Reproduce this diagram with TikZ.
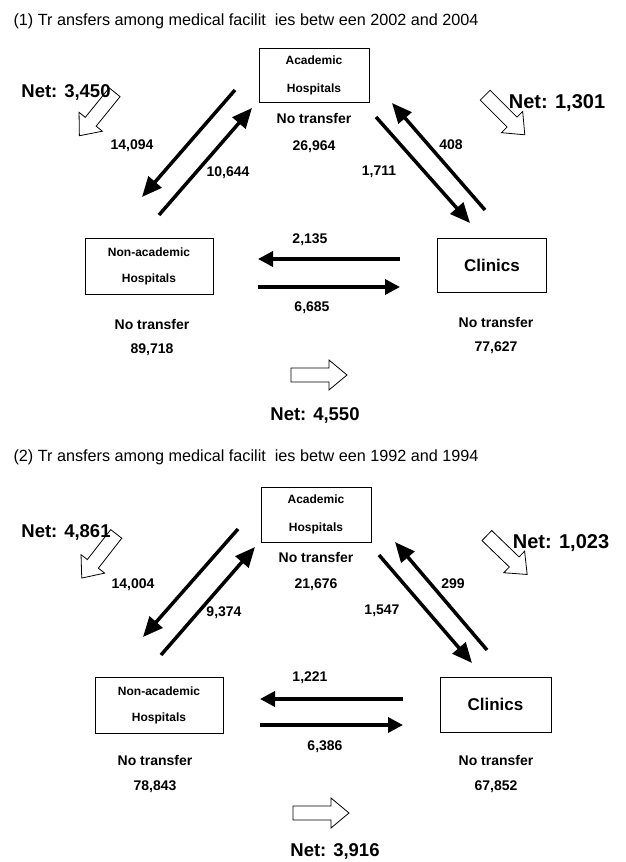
\documentclass[tikz,border=0pt]{standalone}
\usepackage{fontspec}
\setmainfont{Liberation Sans}
\usetikzlibrary{arrows.meta}

\tikzset{
  facility/.style={draw, line width=0.8pt, inner sep=0pt, align=center,
    minimum width=110pt, minimum height=54pt,
    font=\fontsize{12}{28}\selectfont\bfseries},
  count/.style={font=\fontsize{14}{16}\selectfont\bfseries},
  netlabel/.style={font=\fontsize{18.5}{20}\selectfont\bfseries},
  heading/.style={anchor=west, font=\fontsize{16.2}{19}\selectfont},
  flow/.style={-{Triangle[length=20pt,width=17pt]}, line width=3.5pt},
  sideflow/.style={-{Triangle[length=15pt,width=15pt]}, line width=3.5pt},
  netarrow/.pic={
    \draw[line width=0.8pt, fill=white]
      (-28,-7) -- (10,-7) -- (10,-15) -- (28,0) -- (10,15) -- (10,7) -- (-28,7) -- cycle;
  }
}

\begin{document}
\begin{tikzpicture}[x=1pt, y=-1pt]
  \useasboundingbox[fill=white] (0,0) rectangle (625,862);

  % ---------------- Panel (1): 2002--2004 ----------------
  \node[heading] (title1) at (10,21) {(1) Tr ansfers among medical facilit\ \ ies betw een 2002 and 2004};

  % 1. Facilities
  \node[facility] (acad1) at (314,75) {Academic\\Hospitals};
  \node[facility, minimum width=128pt, minimum height=56pt, font=\fontsize{12}{26}\selectfont\bfseries]
    (nonac1) at (149,266) {Non-academic\\Hospitals};
  \node[facility, minimum width=109pt, font=\fontsize{17}{20}\selectfont\bfseries] (clin1) at (492,265) {Clinics};

  % No transfer counts
  \node[count] (acadno1) at (314,118) {No transfer};
  \node[count] (acadn1) at (314,147) {26,964};
  \node[count] (nonacno1) at (152,324) {No transfer};
  \node[count] (nonacn1) at (152,350) {89,718};
  \node[count] (clinno1) at (496,322) {No transfer};
  \node[count] (clinn1) at (496,348) {77,627};

  % 2. Transfers (end points of the arrows)
  \coordinate (an1s) at (235,90);   \coordinate (an1e) at (142,197);
  \coordinate (na1s) at (159,215);  \coordinate (na1e) at (252,108);
  \coordinate (ac1s) at (376,117);  \coordinate (ac1e) at (470,223);
  \coordinate (ca1s) at (485,210);  \coordinate (ca1e) at (392,103);
  \coordinate (cn1s) at (400,259);  \coordinate (cn1e) at (258,259);
  \coordinate (nc1s) at (258,287);  \coordinate (nc1e) at (400,287);

  \draw[flow] (an1s) -- (an1e);
  \draw[flow] (na1s) -- (na1e);
  \draw[flow] (ac1s) -- (ac1e);
  \draw[flow] (ca1s) -- (ca1e);
  \draw[sideflow] (cn1s) -- (cn1e);
  \draw[sideflow] (nc1s) -- (nc1e);

  \node[count] (an1) at (132,146) {14,094};
  \node[count] (na1) at (228,173) {10,644};
  \node[count] (ac1) at (379,172) {1,711};
  \node[count] (ca1) at (451,145) {408};
  \node[count] (cn1) at (310,240) {2,135};
  \node[count] (nc1) at (312,308) {6,685};

  % 3. Net flows
  \pic[rotate=231] (netan1) at (97,114) {netarrow};
  \pic[rotate=-45] (netac1) at (505,115) {netarrow};
  \pic (netnc1) at (319,375) {netarrow};
  \node[netlabel] (net1a) at (66,92) {Net: 3,450};
  \node[netlabel, font=\fontsize{20}{22}\selectfont\bfseries] (net1b) at (557,103) {Net: 1,301};
  \node[netlabel] (net1c) at (315,415) {Net: 4,550};

  % ---------------- Panel (2): 1992--1994 ----------------
  \node[heading] (title2) at (10,457) {(2) Tr ansfers among medical facilit\ \ ies betw een 1992 and 1994};

  % 1. Facilities
  \node[facility, minimum height=55pt] (acad2) at (316,514.5) {Academic\\Hospitals};
  \node[facility, minimum width=128pt, minimum height=56pt, font=\fontsize{12}{26}\selectfont\bfseries]
    (nonac2) at (159,705) {Non-academic\\Hospitals};
  \node[facility, minimum width=111pt, minimum height=55pt, font=\fontsize{17}{20}\selectfont\bfseries] (clin2) at (495.5,704.5) {Clinics};

  % No transfer counts
  \node[count] (acadno2) at (316,557) {No transfer};
  \node[count] (acadn2) at (316,585) {21,676};
  \node[count] (nonacno2) at (155,760) {No transfer};
  \node[count] (nonacn2) at (155,787) {78,843};
  \node[count] (clinno2) at (496,760) {No transfer};
  \node[count] (clinn2) at (496,787) {67,852};

  % 2. Transfers (end points of the arrows)
  \coordinate (an2s) at (238,529);  \coordinate (an2e) at (143,637);
  \coordinate (na2s) at (161,655);  \coordinate (na2e) at (255,547);
  \coordinate (ac2s) at (379,555);  \coordinate (ac2e) at (472,663);
  \coordinate (ca2s) at (487,650);  \coordinate (ca2e) at (395,542);
  \coordinate (cn2s) at (403,699);  \coordinate (cn2e) at (260,699);
  \coordinate (nc2s) at (260,725);  \coordinate (nc2e) at (403,725);

  \draw[flow] (an2s) -- (an2e);
  \draw[flow] (na2s) -- (na2e);
  \draw[flow] (ac2s) -- (ac2e);
  \draw[flow] (ca2s) -- (ca2e);
  \draw[sideflow] (cn2s) -- (cn2e);
  \draw[sideflow] (nc2s) -- (nc2e);

  \node[count] (an2) at (133,585) {14,004};
  \node[count] (na2) at (224,613) {9,374};
  \node[count] (ac2) at (382,611) {1,547};
  \node[count] (ca2) at (453,584) {299};
  \node[count] (cn2) at (310,678) {1,221};
  \node[count] (nc2) at (325,747) {6,386};

  % 3. Net flows
  \pic[rotate=232] (netan2) at (99,556) {netarrow};
  \pic[rotate=-44] (netac2) at (507,555) {netarrow};
  \pic (netnc2) at (321,813) {netarrow};
  \node[netlabel] (net2a) at (66,532) {Net: 4,861};
  \node[netlabel, font=\fontsize{20}{22}\selectfont\bfseries] (net2b) at (561,543) {Net: 1,023};
  \node[netlabel] (net2c) at (335,851) {Net: 3,916};
\end{tikzpicture}
\end{document}
